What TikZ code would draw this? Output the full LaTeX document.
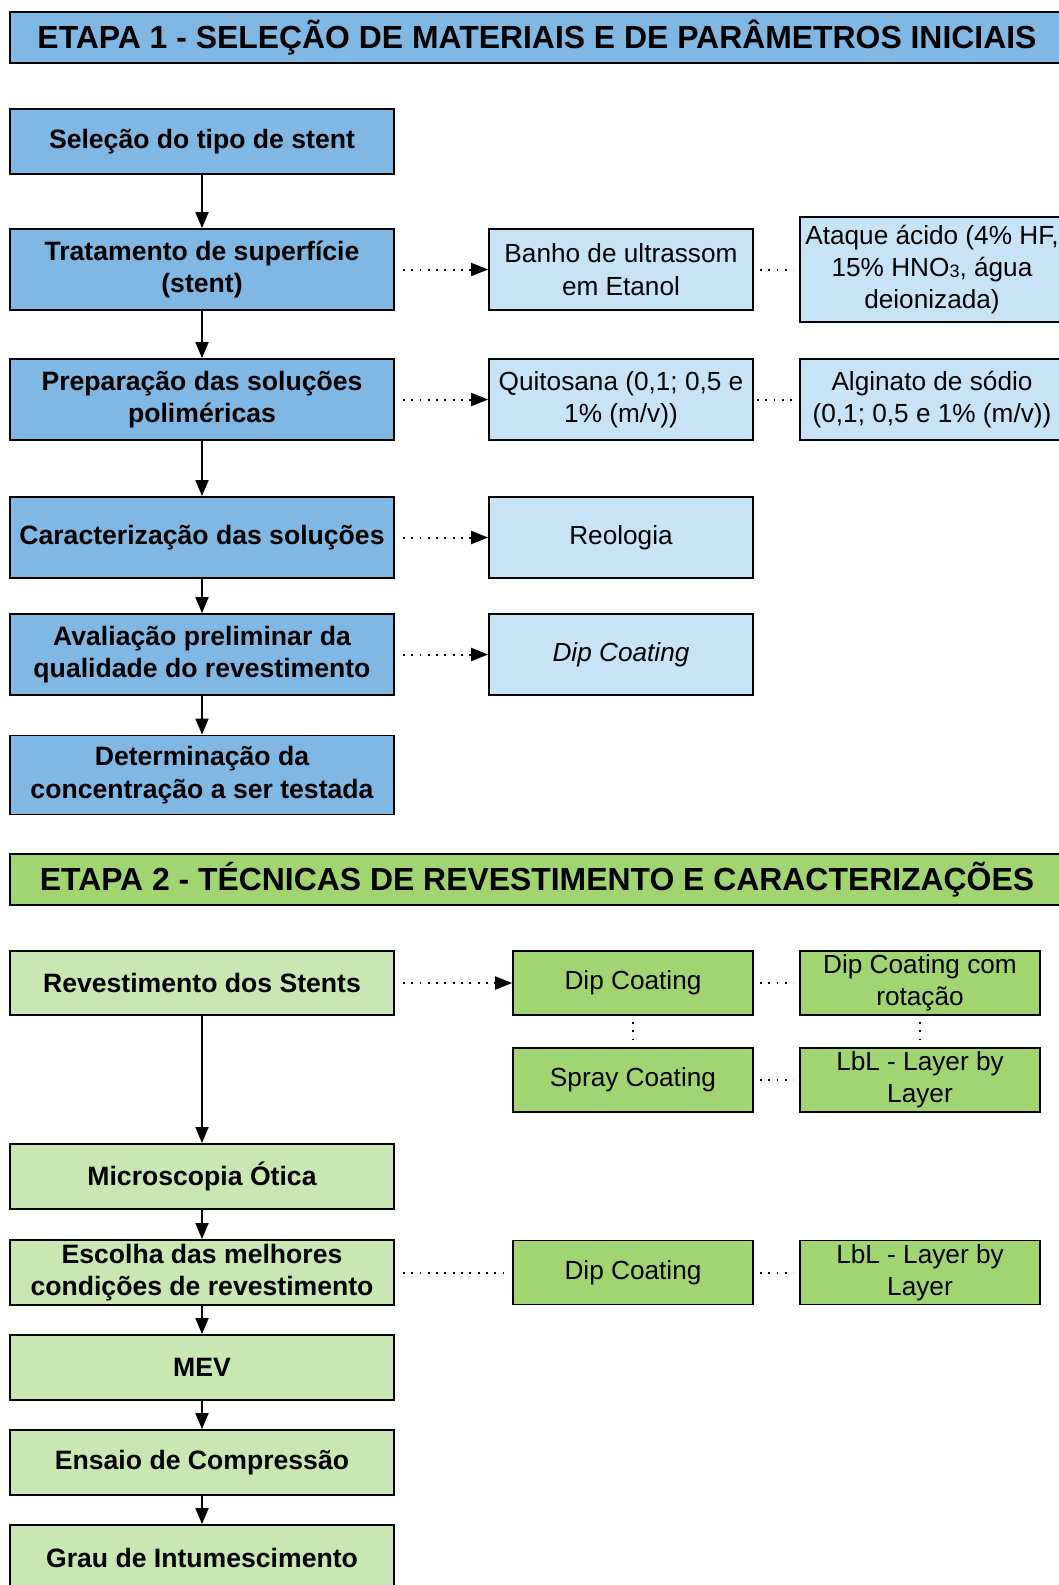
\documentclass[tikz,border=0pt]{standalone}
\usepackage{fontspec}
\setmainfont{Liberation Sans}
\usetikzlibrary{arrows.meta}
\definecolor{stepblue}{HTML}{80B7E3}
\definecolor{paleblue}{HTML}{C7E4F7}
\definecolor{stepgreen}{HTML}{A1D572}
\definecolor{palegreen}{HTML}{C9E7B3}
\begin{document}
\begin{tikzpicture}[x=1pt,y=-1pt,
  base/.style={draw=black, line width=1.8pt, inner sep=0pt, align=center,
    font=\fontsize{26.2}{32.3}\selectfont},
  header/.style={base, minimum width=1054pt, minimum height=51pt,
    font=\fontsize{31.9}{36}\selectfont\bfseries},
  mainbox/.style={base, minimum width=384pt, font=\fontsize{26.6}{32.3}\selectfont\bfseries},
  sidewide/.style={base, minimum width=264pt, minimum height=81pt, fill=paleblue},
  sidegreen/.style={base, minimum width=240pt, minimum height=64pt, fill=stepgreen},
  flow/.style={line width=1.8pt, -{Triangle[length=16pt,width=13pt]}},
  dotlink/.style={line width=2pt, dash pattern=on 1.9pt off 6.4pt},
  dotarrow/.style={dotlink, shorten <=8pt, -{Triangle[length=17pt,width=13pt]}}
]
\useasboundingbox[fill=white] (0,0) rectangle (1059,1585);

% ---------- Stage 1 ----------
\node[header, fill=stepblue] (h1) at (537,37.5)
  {ETAPA 1 - SELEÇÃO DE MATERIAIS E DE PARÂMETROS INICIAIS};

\node[mainbox, fill=stepblue, minimum height=65pt] (a1) at (202,141.5) {Seleção do tipo de stent};
\node[mainbox, fill=stepblue, minimum height=81pt] (a2) at (202,269.5) {Tratamento de superfície\\(stent)};
\node[mainbox, fill=stepblue, minimum height=81pt] (a3) at (202,399.5) {Preparação das soluções\\poliméricas};
\node[mainbox, fill=stepblue, minimum height=81pt] (a4) at (202,537.5) {Caracterização das soluções};
\node[mainbox, fill=stepblue, minimum height=81pt] (a5) at (202,654.5) {Avaliação preliminar da\\qualidade do revestimento};
\node[mainbox, fill=stepblue, minimum height=79pt] (a6) at (202,775) {Determinação da\\concentração a ser testada};

\node[sidewide] (b1) at (621,269.5) {Banho de ultrassom\\em Etanol};
\node[sidewide] (b2) at (621,399.5) {Quitosana (0,1; 0,5 e\\1\% (m/v))};
\node[sidewide] (b3) at (621,537.5) {Reologia};
\node[sidewide] (b4) at (621,654.5) {\itshape Dip Coating};

\node[sidewide, minimum height=105pt] (c1) at (932,269.5)
  {Ataque ácido (4\% HF,\\15\% HNO\raisebox{-1pt}{\fontsize{18}{18}\selectfont 3}, água\\deionizada)};
\node[sidewide] (c2) at (932,399.5) {Alginato de sódio\\(0,1; 0,5 e 1\% (m/v))};

\foreach \u/\v in {a1/a2, a2/a3, a3/a4, a4/a5, a5/a6}
  \draw[flow] (\u) -- (\v);
\foreach \u/\v in {a2/b1, a3/b2, a4/b3, a5/b4}
  \draw[dotarrow] (\u) -- (\v);
\draw[dotlink, shorten <=6pt, shorten >=6pt] (b1) -- (b1 -| c1.west);
\draw[dotlink, shorten <=3pt, shorten >=6pt] (b2) -- (c2);

% ---------- Stage 2 ----------
\node[header, fill=stepgreen] (h2) at (537,879.5)
  {ETAPA 2 - TÉCNICAS DE REVESTIMENTO E CARACTERIZAÇÕES};

\node[mainbox, fill=palegreen, minimum height=64pt] (g1) at (202,983) {Revestimento dos Stents};
\node[mainbox, fill=palegreen, minimum height=65pt] (g2) at (202,1176.5) {Microscopia Ótica};
\node[mainbox, fill=palegreen, minimum height=65pt] (g3) at (202,1272.5) {Escolha das melhores\\condições de revestimento};
\node[mainbox, fill=palegreen, minimum height=65pt] (g4) at (202,1367.5) {MEV};
\node[mainbox, fill=palegreen, minimum height=65pt] (g5) at (202,1462.5) {Ensaio de Compressão};
\node[mainbox, fill=palegreen, minimum height=65pt] (g6) at (202,1557.5) {Grau de Intumescimento};

\node[sidegreen] (d1) at (633,983) {Dip Coating};
\node[sidegreen] (d2) at (633,1080) {Spray Coating};
\node[sidegreen] (d3) at (633,1272.5) {Dip Coating};

\node[sidegreen] (e1) at (920,983) {Dip Coating com\\rotação};
\node[sidegreen] (e2) at (920,1080) {LbL - Layer by\\Layer};
\node[sidegreen] (e3) at (920,1272.5) {LbL - Layer by\\Layer};

\foreach \u/\v in {g1/g2, g2/g3, g3/g4, g4/g5, g5/g6}
  \draw[flow] (\u) -- (\v);
\draw[dotarrow] (g1) -- (d1);
\draw[dotlink, shorten <=8pt, shorten >=8pt] (g3) -- (d3);
\foreach \u/\v in {d1/e1, d2/e2, d3/e3}
  \draw[dotlink, shorten <=6pt, shorten >=6pt] (\u) -- (\v);
\foreach \u/\v in {d1/d2, e1/e2}
  \draw[dotlink, shorten <=6pt, shorten >=6pt] (\u) -- (\v);
\end{tikzpicture}
\end{document}
